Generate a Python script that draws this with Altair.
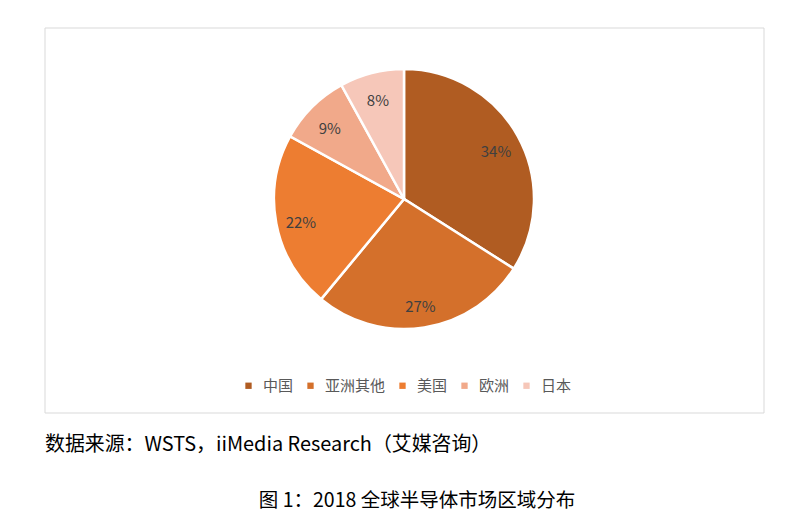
import altair as alt
import pandas as pd

regions = ["中国", "亚洲其他", "美国", "欧洲", "日本"]
shares = [34, 27, 22, 9, 8]
colors = ["#B05C22", "#D4702B", "#ED7D31", "#F1A98A", "#F6C7B9"]
source_text = "数据来源：WSTS，iiMedia Research（艾媒咨询）"
caption_text = "图 1：2018 全球半导体市场区域分布"

FONT = "Noto Sans CJK SC"

df = pd.DataFrame({
    "region": regions,
    "share": shares,
    "order": list(range(len(regions))),
    "label": [f"{v}%" for v in shares],
})

W, H = 782, 504
CX, CY = 396, 191

border = alt.Chart(pd.DataFrame({"a": [0]})).mark_rect(
    fill="white", stroke="#D9D9D9", strokeWidth=1
).encode(
    x=alt.value(37), x2=alt.value(756), y=alt.value(20), y2=alt.value(405)
)

base = alt.Chart(df).encode(
    theta=alt.Theta("share:Q", stack=True),
    order=alt.Order("order:Q"),
)

pie = base.mark_arc(outerRadius=130, stroke="white", strokeWidth=2.5).encode(
    x=alt.value(CX), y=alt.value(CY),
    color=alt.Color(
        "region:N",
        scale=alt.Scale(domain=regions, range=colors),
        sort=regions,
        legend=alt.Legend(
            title=None, orient="none", direction="horizontal",
            legendX=233, legendY=370,
            symbolType="square", symbolSize=40, symbolStrokeWidth=0,
            labelFont=FONT, labelFontSize=15, labelColor="#595959",
            labelOffset=7, columnPadding=9, symbolOffset=0,
        ),
    ),
)

labels = base.mark_text(
    radius=105, font=FONT, fontSize=15, color="#404040", dy=4
).encode(x=alt.value(CX), y=alt.value(CY), text="label:N")

src = alt.Chart(pd.DataFrame({"t": [source_text]})).mark_text(
    font=FONT, fontSize=19.9, color="#000000", align="left", baseline="middle"
).encode(x=alt.value(37), y=alt.value(437), text="t:N")

cap = alt.Chart(pd.DataFrame({"t": [caption_text]})).mark_text(
    font=FONT, fontSize=19.5, color="#000000", align="center", baseline="middle"
).encode(x=alt.value(409), y=alt.value(493), text="t:N")

chart = alt.layer(border, pie, labels, src, cap).properties(
    width=W, height=H, padding=0, background="white",
    autosize=alt.AutoSizeParams(type="none")
).configure_view(strokeWidth=0, stroke="transparent")

chart.save("out.html", embed_options={"renderer": "svg", "actions": False})
